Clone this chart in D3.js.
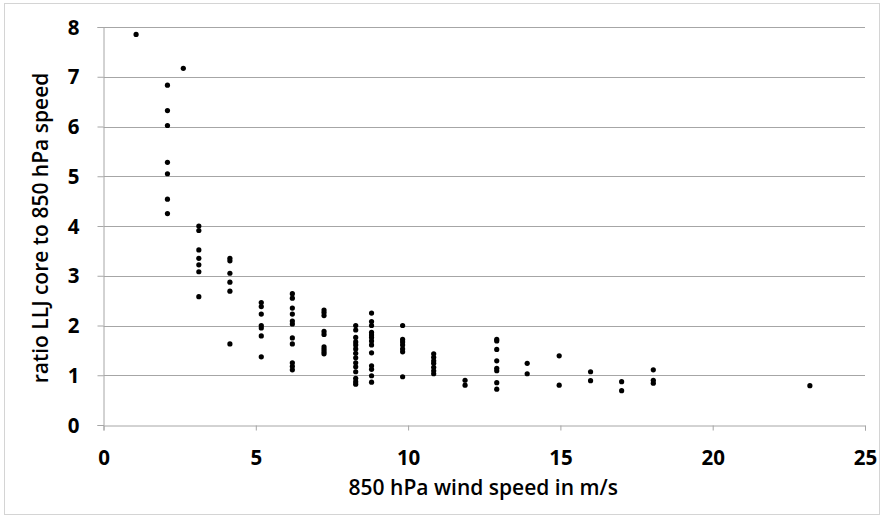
<!DOCTYPE html>
<html>
<head>
<meta charset="utf-8">
<script src="https://cdn.jsdelivr.net/npm/d3@7"></script>
<style>
  body { margin: 0; background: #fff; }
  text { font-family: "Open Sans", "Noto Sans", sans-serif; }
</style>
</head>
<body>
<div class="chart"></div>
<script>
// wind speed at 850 hPa (m/s) and ratio of LLJ core speed to it
const windSpeed = [
  1.07, 2.62,
  2.1, 2.1, 2.1, 2.1, 2.1, 2.1, 2.1,
  3.13, 3.13, 3.13, 3.13, 3.13, 3.13, 3.13,
  4.15, 4.15, 4.15, 4.15, 4.15, 4.15,
  5.18, 5.18, 5.18, 5.18, 5.18, 5.18, 5.18,
  6.2, 6.2, 6.2, 6.2, 6.2, 6.2, 6.2, 6.2, 6.2, 6.2, 6.2,
  7.24, 7.24, 7.24, 7.24, 7.24, 7.24, 7.24, 7.24, 7.24,
  8.28, 8.28, 8.28, 8.28, 8.28, 8.28, 8.28, 8.28, 8.28, 8.28, 8.28, 8.28, 8.28, 8.28,
  8.8, 8.8, 8.8, 8.8, 8.8, 8.8, 8.8, 8.8, 8.8, 8.8, 8.8, 8.8, 8.8,
  9.82, 9.82, 9.82, 9.82, 9.82, 9.82, 9.82,
  10.84, 10.84, 10.84, 10.84, 10.84, 10.84, 10.84,
  11.87, 11.87,
  12.91, 12.91, 12.91, 12.91, 12.91, 12.91, 12.91, 12.91,
  13.91, 13.91,
  14.96, 14.96,
  15.99, 15.99,
  17.01, 17.01,
  18.05, 18.05, 18.05,
  23.19
];
const speedRatio = [
  7.85, 7.17,
  6.83, 6.32, 6.02, 5.28, 5.05, 4.54, 4.25,
  4.0, 3.91, 3.52, 3.35, 3.22, 3.08, 2.58,
  3.35, 3.3, 3.05, 2.87, 2.69, 1.63,
  2.46, 2.38, 2.23, 2.0, 1.95, 1.79, 1.37,
  2.64, 2.55, 2.35, 2.23, 2.09, 2.03, 1.75, 1.63, 1.25, 1.18, 1.11,
  2.31, 2.26, 2.2, 1.88, 1.82, 1.57, 1.52, 1.47, 1.43,
  2.0, 1.91, 1.76, 1.67, 1.61, 1.53, 1.44, 1.35, 1.25, 1.17, 1.07, 0.94, 0.87, 0.82,
  2.25, 2.08, 2.0, 1.86, 1.81, 1.76, 1.69, 1.61, 1.45, 1.19, 1.12, 0.99, 0.86,
  2.0, 1.72, 1.67, 1.61, 1.53, 1.47, 0.97,
  1.43, 1.36, 1.29, 1.24, 1.16, 1.09, 1.03,
  0.9, 0.8,
  1.72, 1.69, 1.52, 1.29, 1.14, 1.09, 0.85, 0.72,
  1.24, 1.03,
  1.39, 0.8,
  1.07, 0.89,
  0.87, 0.69,
  1.11, 0.9, 0.84,
  0.79
];
const xTicks = [0, 5, 10, 15, 20, 25];
const yTicks = [0, 1, 2, 3, 4, 5, 6, 7, 8];
const xTitle = '850 hPa wind speed in m/s';
const yTitle = 'ratio LLJ core to 850 hPa speed';

const w = 883;
const h = 519;
const margin = { top: 27, right: 18, bottom: 94, left: 103.5 };

const svg = d3.select('.chart')
  .append('svg')
  .attr('width', w)
  .attr('height', h);

// outer chart border
svg.append('rect')
  .attr('x', 4.5)
  .attr('y', 3.5)
  .attr('width', 875)
  .attr('height', 511)
  .attr('fill', '#fff')
  .attr('stroke', '#d4d4d4');

const x = d3.scaleLinear().domain([0, 25]).range([margin.left, w - margin.right]);
const y = d3.scaleLinear().domain([0, 8]).range([h - margin.bottom, margin.top]);

// horizontal gridlines
svg.append('g')
  .selectAll('line')
  .data(yTicks.filter(d => d > 0))
  .enter()
  .append('line')
  .attr('x1', x(0))
  .attr('x2', x(25))
  .attr('y1', d => Math.round(y(d)) + 0.5)
  .attr('y2', d => Math.round(y(d)) + 0.5)
  .attr('stroke', '#a6a6a6');

const yAxis = svg.append('g')
  .attr('transform', `translate(${x(0)},0)`)
  .call(d3.axisLeft(y).tickValues(yTicks).tickSize(6).tickPadding(18));

const xAxis = svg.append('g')
  .attr('transform', `translate(0,${Math.round(y(0)) + 0.5})`)
  .call(d3.axisBottom(x).tickValues(xTicks).tickSize(5).tickPadding(20));

[yAxis, xAxis].forEach(g => {
  g.select('.domain').attr('stroke', '#a6a6a6');
  g.selectAll('.tick line').attr('stroke', '#a6a6a6');
  g.selectAll('.tick text')
    .attr('fill', '#000')
    .style('font-size', '20.5px')
    .style('font-weight', 'bold')
    .style('font-family', '"Open Sans", sans-serif');
});
yAxis.selectAll('.tick text').attr('dy', '0.35em');

svg.append('g')
  .selectAll('circle')
  .data(windSpeed.map((d, i) => [d, speedRatio[i]]))
  .enter()
  .append('circle')
  .attr('cx', d => x(d[0]))
  .attr('cy', d => y(d[1]))
  .attr('r', 2.6)
  .attr('fill', '#000');

svg.append('text')
  .attr('x', (x(0) + x(25)) / 2 - 1)
  .attr('y', 495)
  .attr('text-anchor', 'middle')
  .style('font-size', '21px')
  .style('font-weight', 600)
  .text(xTitle);

svg.append('text')
  .attr('transform', 'translate(41,228) rotate(-90)')
  .attr('text-anchor', 'middle')
  .attr('dy', '0.35em')
  .style('font-size', '21px')
  .style('font-weight', 600)
  .text(yTitle);
</script>
</body>
</html>
